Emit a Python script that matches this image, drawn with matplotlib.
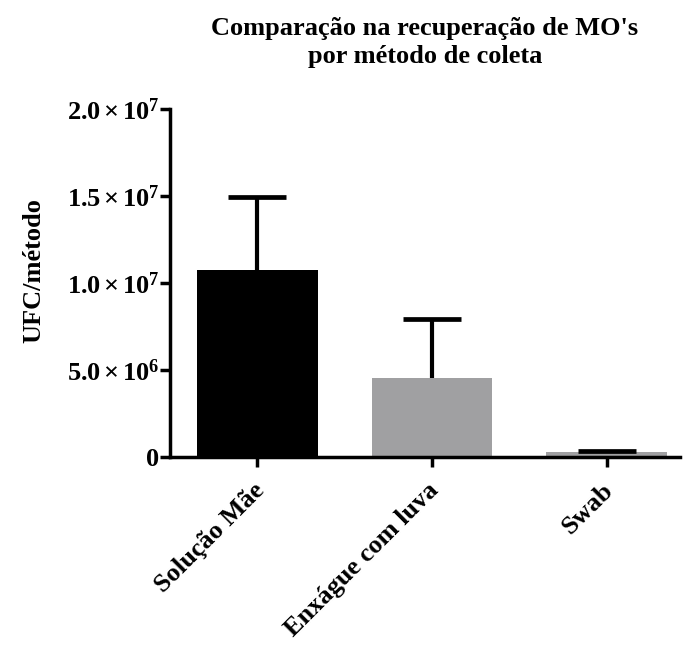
import matplotlib
matplotlib.use("Agg")
import matplotlib.pyplot as plt
import matplotlib.transforms as mtransforms
from matplotlib.ticker import FixedLocator, FixedFormatter

plt.rcParams['font.family'] = ['Liberation Serif', 'DejaVu Serif']
plt.rcParams['font.weight'] = 'bold'
plt.rcParams['mathtext.fontset'] = 'custom'
plt.rcParams['mathtext.rm'] = 'Liberation Serif:bold'
plt.rcParams['mathtext.bf'] = 'Liberation Serif:bold'
plt.rcParams['mathtext.it'] = 'Liberation Serif:bold'

# Data
categories = ["Solução Mãe", "Enxágue com luva", "Swab"]
means = [1.075e7, 4.54e6, 2.6e5]
sd_upper = [4.19e6, 3.39e6, 0.6e5]
colors = ["#000000", "#a0a0a2", "#a0a0a2"]
ytick_values = [0, 5.0e6, 1.0e7, 1.5e7, 2.0e7]
ytick_labels = ["0",
                r"$\mathbf{5.0\,{\times}\,10^{6}}$",
                r"$\mathbf{1.0\,{\times}\,10^{7}}$",
                r"$\mathbf{1.5\,{\times}\,10^{7}}$",
                r"$\mathbf{2.0\,{\times}\,10^{7}}$"]

fig = plt.figure(figsize=(6.88, 6.53), dpi=100)
ax = fig.add_axes([170/688, 196/653, 510/688, 348/653])

x = list(range(len(categories)))
tops = [m + s for m, s in zip(means, sd_upper)]

# upper error stems, then caps as horizontal markers at the top
ax.errorbar(x, means, yerr=[[0]*len(means), sd_upper], fmt='none',
            ecolor='black', elinewidth=3.0, capsize=0, zorder=1)
ax.plot(x, tops, linestyle='none', marker='_', markersize=42,
        markeredgewidth=3.4, color='black', zorder=3)
ax.bar(x, means, width=0.69, color=colors, edgecolor='none', zorder=2)

ax.set_xlim(-0.5, 2.42)
ax.set_ylim(0, 2.0e7)

for side in ['top', 'right']:
    ax.spines[side].set_visible(False)
for side in ['left', 'bottom']:
    ax.spines[side].set_linewidth(2.5)

ax.yaxis.set_major_locator(FixedLocator(ytick_values))
ax.yaxis.set_major_formatter(FixedFormatter(ytick_labels))
ax.tick_params(axis='y', length=7, width=2.5, labelsize=19, pad=0.5)
ax.tick_params(axis='x', length=7, width=2.5, labelsize=19, pad=2)

ax.set_xticks(x)
ax.set_xticklabels(categories, rotation=45, ha='right', rotation_mode='anchor',
                   fontweight='bold')
shift = mtransforms.ScaledTranslation(-5/100, -9/100, fig.dpi_scale_trans)
for lbl in ax.get_xticklabels():
    lbl.set_transform(lbl.get_transform() + shift)

ax.set_ylabel("UFC/método", fontsize=19, fontweight='bold')
ax.yaxis.set_label_coords(-0.245, 0.537)
ax.set_title("Comparação na recuperação de MO's\npor método de coleta",
             fontsize=19, fontweight='bold', pad=33, linespacing=1.3)

fig.savefig("out.png", dpi=100)
